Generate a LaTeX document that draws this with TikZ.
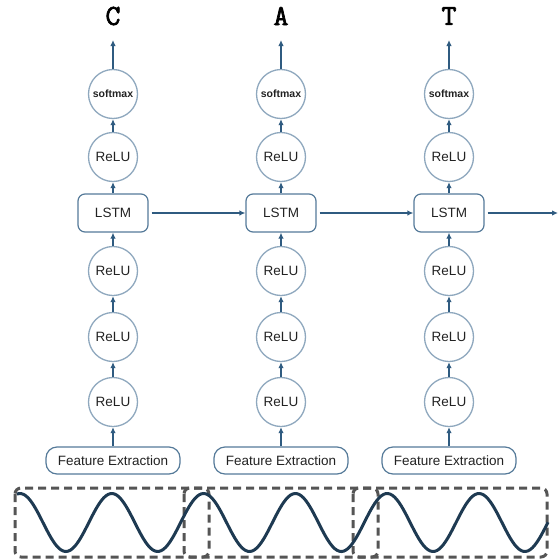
\documentclass[tikz,border=0pt]{standalone}
\usepackage{fontspec}
\setmainfont{Liberation Sans}
\newfontfamily\letterfont[FakeBold=2.5]{Latin Modern Mono}
\usetikzlibrary{arrows.meta}
\definecolor{ringc}{HTML}{8FA8BE}
\definecolor{arrc}{HTML}{2F5B80}
\definecolor{txtc}{HTML}{222222}
\definecolor{wavec}{HTML}{1E3A52}
\definecolor{dashc}{HTML}{555555}
\tikzset{
  unit/.style={circle, draw=ringc, line width=1.3pt, minimum size=49pt, inner sep=0pt, text=txtc, font=\fontsize{13.5}{14}\selectfont},
  smax/.style={unit, font=\fontsize{10.5}{12}\selectfont\bfseries},
  lstmbox/.style={rectangle, rounded corners=7pt, draw=arrc!60!ringc, line width=1.2pt, minimum width=70pt, minimum height=38pt, inner sep=0pt, text=txtc, font=\fontsize{13.5}{14}\selectfont},
  featbox/.style={rectangle, rounded corners=11pt, draw=arrc!60!ringc, line width=1.2pt, minimum width=134pt, minimum height=27pt, inner sep=0pt, text=txtc, font=\fontsize{13.5}{14}\selectfont},
  letter/.style={font=\letterfont\bfseries\fontsize{29}{31}\selectfont, text=black, inner sep=0pt},
  conn/.style={draw=arrc, line width=1.4pt, -{Latex[length=6pt,width=5.5pt]}},
  frame/.style={draw=dashc, line width=3pt, dash pattern=on 8pt off 5pt, rounded corners=6pt},
  wave/.style={draw=wavec, line width=3pt},
}
\begin{document}
\begin{tikzpicture}[x=1pt,y=-1pt]
\useasboundingbox (0,0) rectangle (559,560);
\foreach \i/\cx/\ch in {1/113/C,2/281/A,3/449/T}{
  \node[letter] (let\i) at (\cx,16) {\ch};
  \coordinate (top\i) at (\cx,40);
  \node[smax] (sm\i) at (\cx,94) {softmax};
  \node[unit] (ra\i) at (\cx,157) {ReLU};
  \node[lstmbox] (ls\i) at (\cx,213) {LSTM};
  \node[unit] (rb\i) at (\cx,271) {ReLU};
  \node[unit] (rc\i) at (\cx,337) {ReLU};
  \node[unit] (rd\i) at (\cx,402) {ReLU};
  \node[featbox] (fe\i) at (\cx,460.5) {Feature Extraction};
  \draw[conn] (fe\i) -- (rd\i);
  \draw[conn] (rd\i) -- (rc\i);
  \draw[conn] (rc\i) -- (rb\i);
  \draw[conn] (rb\i) -- (ls\i);
  \draw[conn] (ls\i) -- (ra\i);
  \draw[conn] (ra\i) -- (sm\i);
  \draw[conn] (sm\i) -- (top\i);
}
\coordinate (out) at (558,213);
\draw[conn] ([xshift=3pt]ls1.east) -- (ls2.west);
\draw[conn] ([xshift=3pt]ls2.east) -- (ls3.west);
\draw[conn] ([xshift=3pt]ls3.east) -- (out);
% frames
\draw[frame] (15,488) rectangle (209,557);
\draw[frame] (184,488) rectangle (378,557);
\draw[frame] (353,488) rectangle (547,557);
% waveform
\draw[wave] plot[domain=17:548, samples=240, smooth] (\x, {522.5 - 29*cos((\x-20)/91.8*360)});
\end{tikzpicture}
\end{document}
